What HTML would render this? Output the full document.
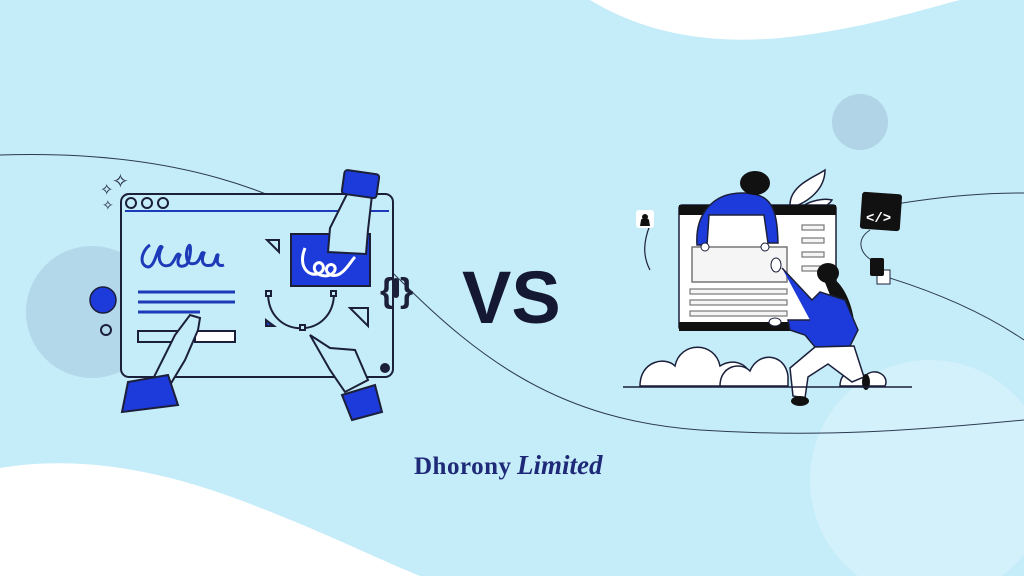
<!DOCTYPE html>
<html><head><meta charset="utf-8"><style>
html,body{margin:0;padding:0;width:1024px;height:576px;overflow:hidden;background:#c5ecf9}
svg{display:block}
</style></head><body>
<svg width="1024" height="576" viewBox="0 0 1024 576" xmlns="http://www.w3.org/2000/svg">
<rect width="1024" height="576" fill="#c5ecf9"/>
<path d="M590 0 C640 30 700 45 780 38 C860 30 920 10 960 0 Z" fill="#fff"/>
<path d="M0 468 C80 455 160 470 240 500 C320 530 380 560 420 576 L0 576 Z" fill="#fff"/>
<circle cx="930" cy="480" r="120" fill="#d3f1fb"/>
<circle cx="92" cy="312" r="66" fill="#b3d8ea"/>
<circle cx="860" cy="122" r="28" fill="#b1d5e7"/>
<path d="M0 155 C150 150 300 180 400 280 C480 360 560 420 700 430 C820 438 920 430 1024 420" fill="none" stroke="#2a3a50" stroke-width="1"/>
<path d="M890 205 C950 195 990 193 1024 193" fill="none" stroke="#2a3a50" stroke-width="1"/>
<path d="M880 275 C930 290 980 310 1024 340" fill="none" stroke="#2a3a50" stroke-width="1"/>
<path d="M870 230 C855 240 860 255 875 262" fill="none" stroke="#2a3a50" stroke-width="1"/>

<!-- LEFT illustration -->
<g stroke="#1b1f3a" stroke-width="2" fill="none">
<rect x="121" y="194" width="272" height="183" rx="8" fill="#c5ecf9"/>
<line x1="125" y1="211" x2="389" y2="211" stroke="#1d3bb8"/>
<circle cx="131" cy="203" r="5"/><circle cx="147" cy="203" r="5"/><circle cx="163" cy="203" r="5"/>
<path d="M150 245 c-8 5 -12 20 -2 22 c8 0 10 -25 14 -20 c-6 10 -2 22 8 18 c6 -4 6 -14 10 -10 c-4 8 -2 14 6 10 c5 -4 6 -26 2 -18 c-3 8 -2 20 8 16 c6 -4 4 -12 8 -10 c-4 10 0 14 8 12 c4 -2 4 -12 6 -10 c-2 8 0 12 6 10" stroke="#1d3bb8" stroke-width="3"/>
<line x1="138" y1="292" x2="235" y2="292" stroke="#1d3bb8" stroke-width="3"/>
<line x1="138" y1="302" x2="235" y2="302" stroke="#1d3bb8" stroke-width="3"/>
<line x1="138" y1="312" x2="200" y2="312" stroke="#1d3bb8" stroke-width="3"/>
<rect x="138" y="331" width="45" height="11"/>
<rect x="195" y="331" width="40" height="11" fill="#fff"/>
<path d="M268 293 C268 340 334 340 334 293"/>
<rect x="266" y="291" width="5" height="5" fill="#c5ecf9"/><rect x="331" y="291" width="5" height="5" fill="#c5ecf9"/><rect x="300" y="325" width="5" height="5" fill="#c5ecf9"/>
<path d="M267 240 l12 0 l0 12 Z"/>
<path d="M350 308 l18 0 l0 18 Z"/>
<path d="M266 320 l8 6 l-8 0 Z" fill="#1d3bb8"/>
<circle cx="106" cy="330" r="5"/>
</g>
<rect x="291" y="234" width="79" height="52" fill="#1d3bdb" stroke="#1b1f3a" stroke-width="2"/>
<path d="M305 248 c-8 20 5 30 15 25 c8 -5 0 -15 -5 -8 c-4 8 10 15 18 8 c6 -6 -2 -12 -6 -6 c-3 6 6 12 14 6 c6 -4 10 -12 14 -16" fill="none" stroke="#fff" stroke-width="3"/>
<path d="M348 192 L330 228 L328 252 L366 254 L368 230 L372 195 Z" fill="#c5ecf9" stroke="#1b1f3a" stroke-width="2"/>
<rect x="343" y="172" width="35" height="24" rx="3" transform="rotate(8 360 184)" fill="#1d3bdb" stroke="#1b1f3a" stroke-width="2"/>
<path d="M150 385 L175 335 L190 315 L200 318 L198 330 L185 360 L170 385 Z" fill="#c5ecf9" stroke="#1b1f3a" stroke-width="2"/>
<path d="M128 382 L168 375 L178 405 L122 412 Z" fill="#1d3bdb" stroke="#1b1f3a" stroke-width="2"/>
<path d="M310 335 L330 348 L355 350 L368 380 L345 392 L330 370 Z" fill="#c5ecf9" stroke="#1b1f3a" stroke-width="2"/>
<path d="M342 395 L375 385 L382 412 L352 420 Z" fill="#1d3bdb" stroke="#1b1f3a" stroke-width="2"/>
<circle cx="103" cy="300" r="13" fill="#1d3bdb" stroke="#1b1f3a" stroke-width="1.5"/>
<circle cx="385" cy="368" r="5" fill="#1b1f3a"/>
<text x="380" y="302" font-family="Liberation Sans, sans-serif" font-size="34" font-weight="bold" fill="#1b1f3a">{</text>
<text x="400" y="302" font-family="Liberation Sans, sans-serif" font-size="34" font-weight="bold" fill="#1b1f3a">}</text>
<rect x="393" y="278" width="6" height="20" rx="3" fill="#1b1f3a"/>
<text x="100" y="195" font-family="DejaVu Sans, sans-serif" font-size="16" fill="#1b1f3a">✧</text>
<text x="112" y="188" font-family="DejaVu Sans, sans-serif" font-size="20" fill="#1b1f3a">✧</text>
<text x="102" y="210" font-family="DejaVu Sans, sans-serif" font-size="14" fill="#1b1f3a">✧</text>

<text x="462" y="323" font-family="Liberation Sans, sans-serif" font-size="74" font-weight="bold" fill="#141833">VS</text>

<!-- RIGHT illustration -->
<g stroke="#1b1f3a" stroke-width="1.5">
<path d="M640 386 c0 -25 25 -30 35 -20 c5 -25 40 -25 45 0 c15 -10 35 0 30 20 Z" fill="#fff"/>
<path d="M720 386 c0 -20 20 -25 30 -15 c8 -20 35 -18 38 5 l0 10 Z" fill="#fff"/>
<path d="M840 386 c0 -15 15 -20 25 -10 c10 -10 25 0 20 10 Z" fill="#fff"/>
<path d="M790 205 c0 -20 25 -28 35 -35 c0 18 -15 32 -35 38 Z" fill="#fff"/>
<path d="M800 208 c10 -8 25 -10 32 -8 c-5 8 -18 12 -30 12 Z" fill="#fff"/>
<rect x="679" y="205" width="157" height="125" rx="3" fill="#fff"/>
</g>
<rect x="679" y="205" width="157" height="10" fill="#111"/>
<rect x="679" y="322" width="157" height="9" fill="#111"/>
<rect x="692" y="247" width="95" height="35" fill="#f5f5f5" stroke="#777" stroke-width="1.5"/>
<g fill="#f5f5f5" stroke="#777" stroke-width="1.2">
<rect x="690" y="289" width="97" height="5"/><rect x="690" y="300" width="97" height="5"/><rect x="690" y="311" width="97" height="5"/>
<rect x="802" y="225" width="22" height="5"/><rect x="802" y="238" width="22" height="5"/><rect x="802" y="252" width="22" height="5"/><rect x="802" y="266" width="22" height="5"/>
</g>
<path d="M697 245 c-2 -30 15 -52 45 -52 c30 0 35 15 36 50 l-10 0 l-4 -28 l-55 0 l-2 30 Z" fill="#1d3bdb" stroke="#1b1f3a" stroke-width="1.5"/>
<circle cx="705" cy="247" r="4" fill="#fff" stroke="#1b1f3a"/><circle cx="765" cy="247" r="4" fill="#fff" stroke="#1b1f3a"/>
<ellipse cx="755" cy="183" rx="15" ry="12" fill="#111"/>
<!-- woman -->
<path d="M822 275 c20 0 30 30 32 45 c3 10 -5 15 -10 10 Z" fill="#111"/>
<path d="M782 268 L812 300 L820 292 L845 300 L858 330 L850 346 L815 347 L805 335 L790 330 L788 320 L810 320" fill="#1d3bdb" stroke="#1b1f3a" stroke-width="1.5"/>
<ellipse cx="828" cy="273" rx="11" ry="10" fill="#111"/>
<ellipse cx="776" cy="265" rx="5" ry="7" fill="#fff" stroke="#1b1f3a"/>
<ellipse cx="775" cy="322" rx="6" ry="4" fill="#fff" stroke="#1b1f3a"/>
<path d="M815 347 L790 368 L793 396 L805 398 L808 377 L828 364 L852 382 L864 377 L854 346 Z" fill="#fff" stroke="#1b1f3a" stroke-width="1.5"/>
<ellipse cx="800" cy="401" rx="9" ry="5" fill="#111"/>
<ellipse cx="866" cy="382" rx="4" ry="8" fill="#111"/>
<line x1="623" y1="387" x2="912" y2="387" stroke="#1b1f3a" stroke-width="1.5"/>
<path d="M650 270 c-8 -15 -6 -30 0 -45" fill="none" stroke="#1b1f3a" stroke-width="1.2"/>
<rect x="636" y="210" width="18" height="18" rx="3" fill="#fff"/>
<path d="M640 226 l1 -6 c0 -2 8 -2 8 0 l1 6 Z" fill="#111"/><circle cx="645" cy="217" r="3" fill="#111"/>
<rect x="861" y="193" width="40" height="37" rx="3" fill="#111" transform="rotate(4 881 211)"/>
<text x="866" y="222" font-family="Liberation Mono, monospace" font-size="14" font-weight="bold" fill="#fff">&lt;/&gt;</text>
<rect x="877" y="270" width="13" height="14" fill="#fff" stroke="#1b1f3a" stroke-width="1"/>
<rect x="870" y="258" width="14" height="18" rx="2" fill="#111"/>

<text x="414" y="474" font-family="Liberation Serif, serif" font-size="25" font-weight="bold" letter-spacing="0.5" fill="#1e2a78">Dhorony</text>
<text x="517" y="474" font-family="Liberation Serif, serif" font-size="27" font-weight="bold" font-style="italic" fill="#1e2a78">Limited</text>
</svg>
</body></html>
